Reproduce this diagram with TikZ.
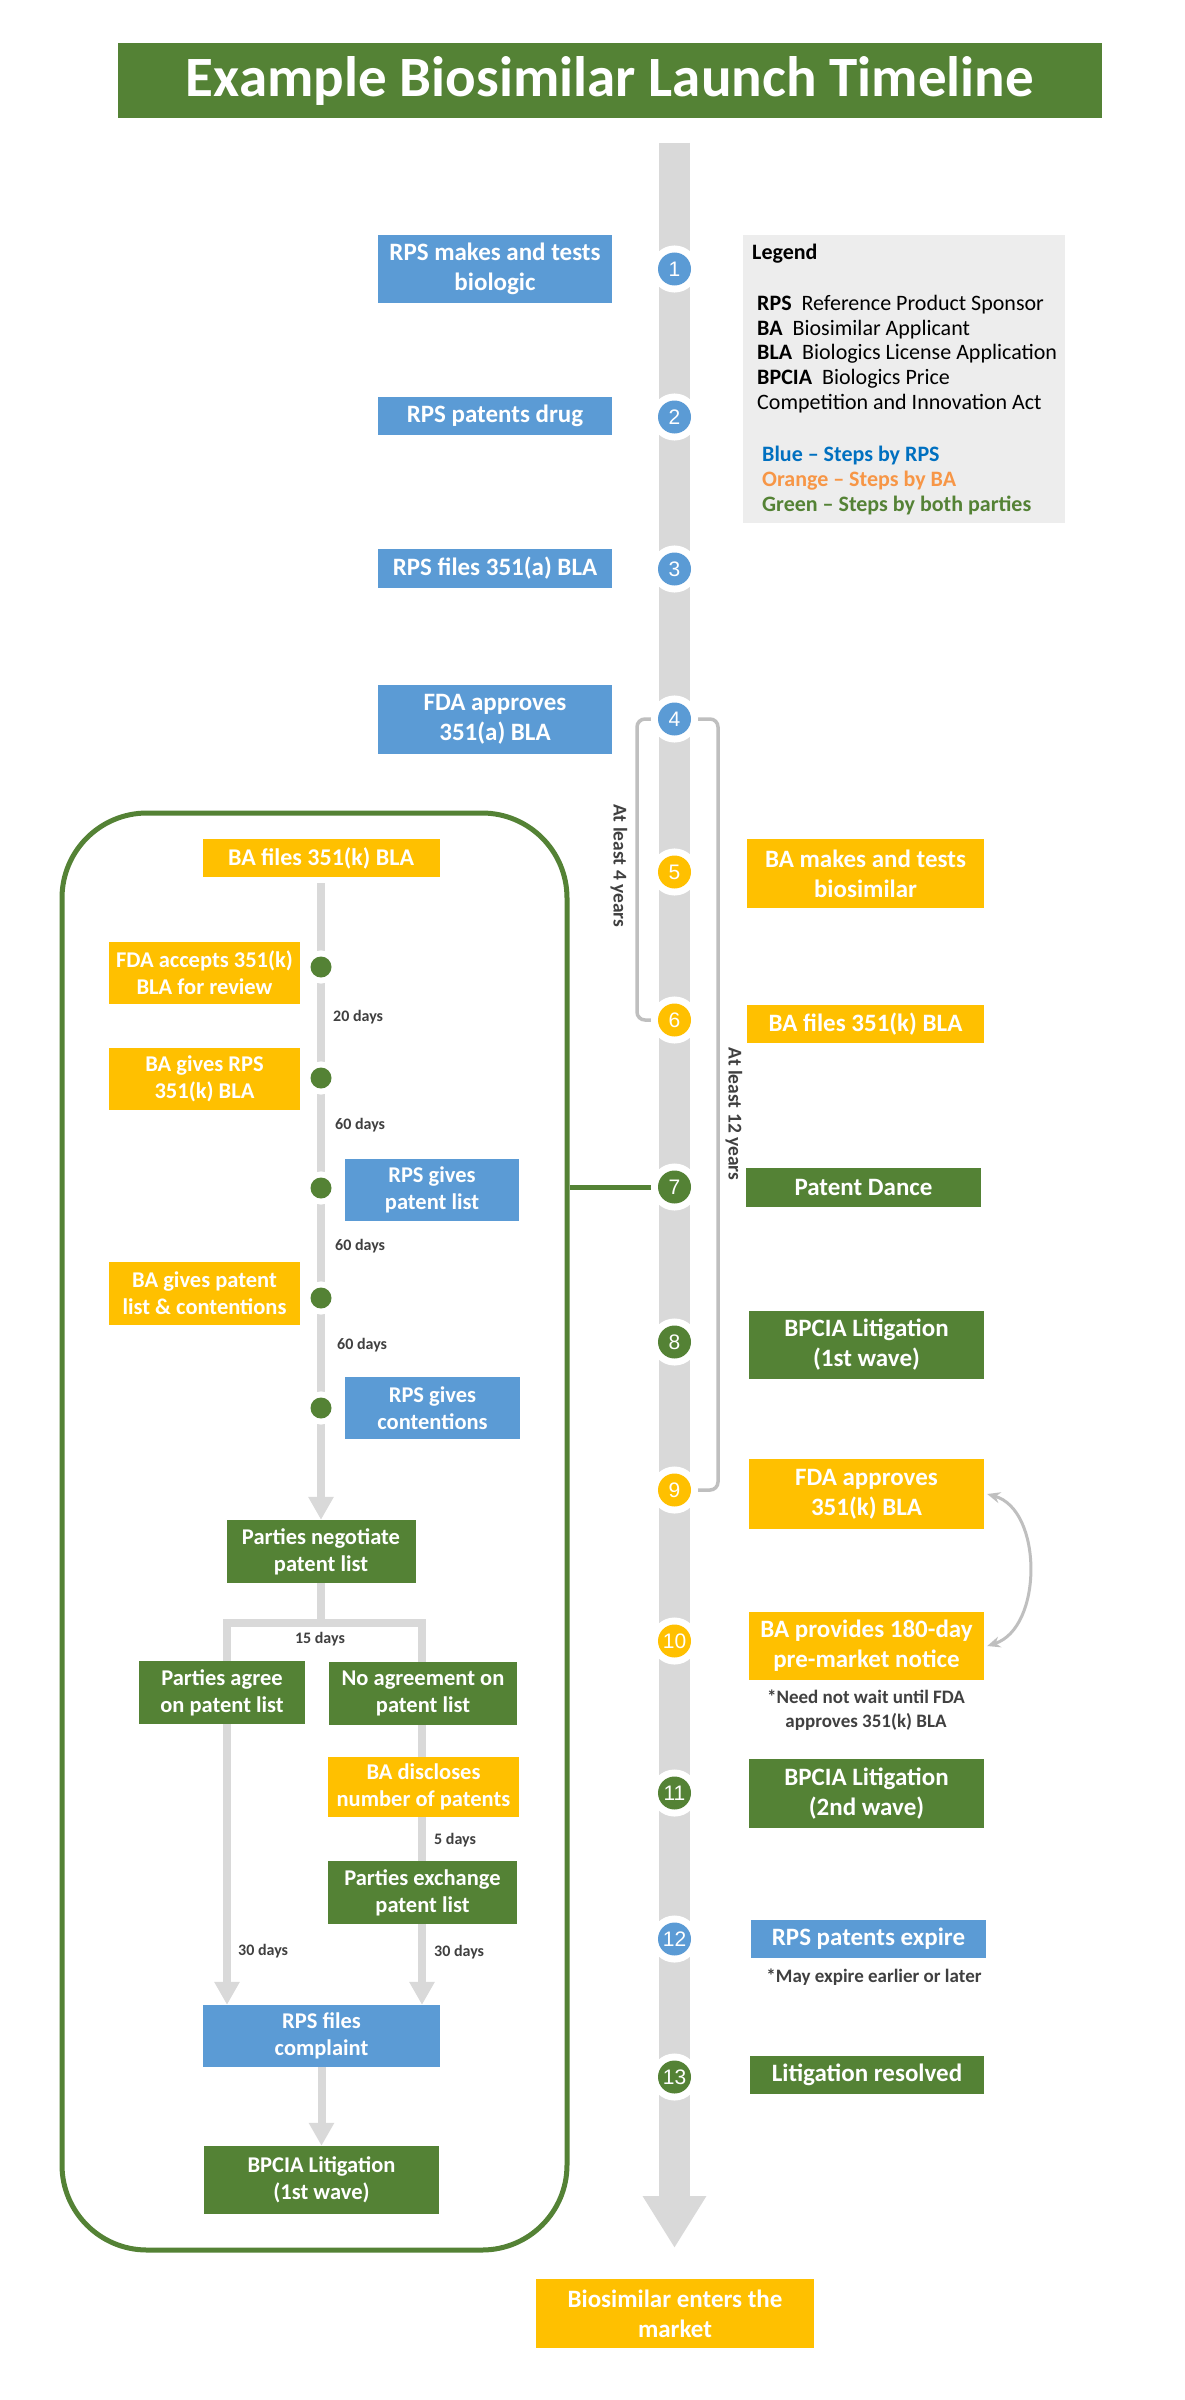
\documentclass[tikz,border=0pt]{standalone}
\usepackage{fontspec}
\setmainfont{Carlito}
\newfontfamily\numfont{Liberation Sans}
\usetikzlibrary{arrows.meta,calc}
\definecolor{cblue}{HTML}{5B9BD5}
\definecolor{corange}{HTML}{FFC000}
\definecolor{cgreen}{HTML}{548235}
\definecolor{cbar}{HTML}{D9D9D9}
\definecolor{cbrk}{HTML}{BFBFBF}
\definecolor{clegend}{HTML}{EDEDED}
\definecolor{ctext}{HTML}{404040}
\definecolor{lblue}{HTML}{0070C0}
\definecolor{lorange}{HTML}{F79646}
\pgfdeclarelayer{background}
\pgfsetlayers{background,main}
\tikzset{
  box/.style={inner sep=0pt, align=center, text=white, font=\bfseries\fontsize{25}{30}\selectfont},
  ibox/.style={box, font=\bfseries\fontsize{22.5}{27}\selectfont},
  bx/.style 2 args={minimum width=#1pt, minimum height=#2pt},
  circ/.style={circle, minimum size=33pt, inner sep=0pt, text=white,
    font=\numfont\fontsize{21}{21}\selectfont, preaction={draw=white, line width=14pt}},
  gdot/.style={circle, minimum size=21pt, inner sep=0pt, fill=cgreen, preaction={draw=white, line width=12pt}},
  dlab/.style={text=ctext, font=\bfseries\fontsize{16}{18}\selectfont, inner sep=0pt},
  note/.style={text=ctext, font=\bfseries\fontsize{19}{24}\selectfont, align=center, inner sep=0pt},
  ltext/.style={font=\fontsize{22}{25}\selectfont, inner sep=0pt, anchor=base west},
  brklab/.style={text=ctext, font=\bfseries\fontsize{19.5}{21}\selectfont, inner sep=0pt, rotate=-90},
  iline/.style={draw=cbar, line width=8pt},
  iarrow/.style={iline, -{Triangle[length=23pt,width=24pt]}},
  bracket/.style={draw=cbrk, line width=3.5pt, rounded corners=8pt},
  curvearr/.style={draw=cbrk, line width=3pt, {Stealth[length=13pt,width=11pt]}-{Stealth[length=13pt,width=11pt]}},
}
\begin{document}
\begin{tikzpicture}[x=1pt, y=-1pt]
\useasboundingbox (0,0) rectangle (1185,2400);
% title
\node[fill=cgreen, minimum width=984pt, minimum height=75pt, inner sep=0pt, text=white,
  font=\bfseries\fontsize{57}{60}\selectfont] (title) at (610,80.5) {Example Biosimilar Launch Timeline};
% legend
\node[fill=clegend, bx={322}{288}, inner sep=0pt] (legend) at (904,379) {};
\node[ltext] (lg0) at (752,259) {\bfseries Legend};
\node[ltext] (lg1) at (757,310) {\textbf{RPS}\ \ Reference Product Sponsor};
\node[ltext] (lg2) at (757,335) {\textbf{BA}\ \ Biosimilar Applicant};
\node[ltext] (lg3) at (757,359) {\textbf{BLA}\ \ Biologics License Application};
\node[ltext] (lg4) at (757,384) {\textbf{BPCIA}\ \ Biologics Price};
\node[ltext] (lg5) at (757,409) {Competition and Innovation Act};
\node[ltext, text=lblue] (lg6) at (762,461) {\bfseries Blue – Steps by RPS};
\node[ltext, text=lorange] (lg7) at (762,486) {\bfseries Orange – Steps by BA};
\node[ltext, text=cgreen] (lg8) at (762,511) {\bfseries Green – Steps by both parties};
% timeline circles
\node[circ, fill=cblue] (c1) at (674.5,269) {1};
\node[circ, fill=cblue] (c2) at (674.5,417) {2};
\node[circ, fill=cblue] (c3) at (674.5,569) {3};
\node[circ, fill=cblue] (c4) at (674.5,719) {4};
\node[circ, fill=corange] (c5) at (674.5,872) {5};
\node[circ, fill=corange] (c6) at (674.5,1020) {6};
\node[circ, fill=cgreen] (c7) at (674.5,1187) {7};
\node[circ, fill=cgreen] (c8) at (674.5,1342) {8};
\node[circ, fill=corange] (c9) at (674.5,1490) {9};
\node[circ, fill=corange] (c10) at (674.5,1641) {10};
\node[circ, fill=cgreen] (c11) at (674.5,1793) {11};
\node[circ, fill=cblue] (c12) at (674.5,1939) {12};
\node[circ, fill=cgreen] (c13) at (674.5,2077) {13};
% left main boxes
\node[box, fill=cblue, bx={234}{68}] (b1) at (495,269) {RPS makes and tests\\biologic};
\node[box, fill=cblue, bx={234}{38}] (b2) at (495,416) {RPS patents drug};
\node[box, fill=cblue, bx={234}{39}] (b3) at (495,568.5) {RPS files 351(a) BLA};
\node[box, fill=cblue, bx={234}{69}] (b4) at (495,719.5) {FDA approves\\351(a) BLA};
% right main boxes
\node[box, fill=corange, bx={237}{69}] (b5) at (865.5,873.5) {BA makes and tests\\biosimilar};
\node[box, fill=corange, bx={237}{38}] (b6) at (865.5,1024) {BA files 351(k) BLA};
\node[box, fill=cgreen, bx={235}{39}] (b7) at (863.5,1187.5) {Patent Dance};
\node[box, fill=cgreen, bx={235}{68}] (b8) at (866.5,1345) {BPCIA Litigation\\(1st wave)};
\node[box, fill=corange, bx={235}{70}] (b9) at (866.5,1494) {FDA approves\\351(k) BLA};
\node[box, fill=corange, bx={235}{68}] (b10) at (866.5,1646) {BA provides 180-day\\pre-market notice};
\node[note] (n10) at (866,1710) {*Need not wait until FDA\\approves 351(k) BLA};
\node[box, fill=cgreen, bx={235}{69}] (b11) at (866.5,1793.5) {BPCIA Litigation\\(2nd wave)};
\node[box, fill=cblue, bx={235}{38}] (b12) at (868.5,1939) {RPS patents expire};
\node[note] (n12) at (874,1977) {*May expire earlier or later};
\node[box, fill=cgreen, bx={234}{38}] (b13) at (867,2075) {Litigation resolved};
\node[box, fill=corange, bx={278}{69}] (market) at (675,2313.5) {Biosimilar enters the\\market};
% bracket labels
\node[brklab] (l4) at (619,866) {At least 4 years};
\node[brklab] (l12) at (734,1114) {At least 12 years};
% patent dance container
\node[draw=cgreen, line width=5pt, rounded corners=85pt, bx={505}{1437}, inner sep=0pt] (dance) at (314.5,1531.5) {};
\node[box, fill=corange, bx={237}{38}, font=\bfseries\fontsize{24}{28}\selectfont] (ifiles) at (321,858) {BA files 351(k) BLA};
\node[ibox, fill=corange, bx={191}{62}] (accept) at (204.5,973) {FDA accepts 351(k)\\BLA for review};
\node[ibox, fill=corange, bx={191}{62}] (give) at (204.5,1079) {BA gives RPS\\351(k) BLA};
\node[ibox, fill=cblue, bx={174}{62}] (plist) at (432,1190) {RPS gives\\patent list};
\node[ibox, fill=corange, bx={191}{63}] (balist) at (204.5,1293.5) {BA gives patent\\list \& contentions};
\node[ibox, fill=cblue, bx={175}{62}] (cont) at (432.5,1408) {RPS gives\\contentions};
\node[ibox, fill=cgreen, bx={189}{63}] (neg) at (321,1551.5) {Parties negotiate\\patent list};
\node[ibox, fill=cgreen, bx={166}{63}] (agree) at (222,1692.5) {Parties agree\\on patent list};
\node[ibox, fill=cgreen, bx={188}{63}] (noagree) at (423,1693.5) {No agreement on\\patent list};
\node[ibox, fill=corange, bx={191}{60}] (disclose) at (423.5,1787) {BA discloses\\number of patents};
\node[ibox, fill=cgreen, bx={189}{63}] (exchange) at (422.5,1892.5) {Parties exchange\\patent list};
\node[ibox, fill=cblue, bx={237}{62}] (complaint) at (321.5,2036) {RPS files\\complaint};
\node[ibox, fill=cgreen, bx={235}{68}] (lit1) at (321.5,2180) {BPCIA Litigation\\(1st wave)};
% inner dots
\node[gdot] (d1) at (321,967) {};
\node[gdot] (d2) at (321,1078) {};
\node[gdot] (d3) at (321,1188) {};
\node[gdot] (d4) at (321,1298) {};
\node[gdot] (d5) at (321,1408) {};
% day labels
\node[dlab, anchor=west] (t20) at (333,1017) {20 days};
\node[dlab, anchor=west] (t60a) at (335,1125) {60 days};
\node[dlab, anchor=west] (t60b) at (335,1246) {60 days};
\node[dlab, anchor=west] (t60c) at (337,1345) {60 days};
\node[dlab] (t15) at (320,1639) {15 days};
\node[dlab, anchor=west] (t5) at (434,1840) {5 days};
\node[dlab, anchor=west] (t30a) at (238,1951) {30 days};
\node[dlab, anchor=west] (t30b) at (434,1952) {30 days};
% coordinates
\coordinate (bartop) at (674.5,143);
\coordinate (barend) at (674.5,2248);
\coordinate (itop) at (321,883);
\coordinate (jL) at (227,1623);
\coordinate (jR) at (422,1623);
\begin{pgfonlayer}{background}
\fill[white] (0,0) rectangle (1185,2400);
\draw[line width=31pt, cbar, -{Triangle[length=52pt,width=60pt]}] (bartop) -- (barend);
\draw[bracket] (c4.center) -- ([xshift=-37.5pt]c4.center) |- (c6.center);
\draw[bracket] (c4.center) -- ([xshift=43.5pt]c4.center) |- (c9.center);
\draw[curvearr] ([xshift=3pt]b9.east) .. controls (1043,1510) and (1043,1628) .. ([xshift=3pt]b10.east);
\draw[draw=cgreen, line width=5pt] (dance.east |- c7) -- (c7.center);
\draw[iarrow] (itop) -- (neg.north);
\draw[iline] (neg.south) -- (neg.south |- jL);
\draw[iline, line join=miter] (jL |- agree.north) -- (jL) -- (jR) -- (jR |- noagree.north);
\draw[iarrow] (jL |- agree.south) -- (jL |- complaint.north);
\draw[iline] (jR |- noagree.south) -- (jR |- disclose.north);
\draw[iline] (jR |- disclose.south) -- (jR |- exchange.north);
\draw[iarrow] (jR |- exchange.south) -- (jR |- complaint.north);
\draw[iarrow] (complaint.south) -- (lit1.north);
\end{pgfonlayer}
\end{tikzpicture}
\end{document}
